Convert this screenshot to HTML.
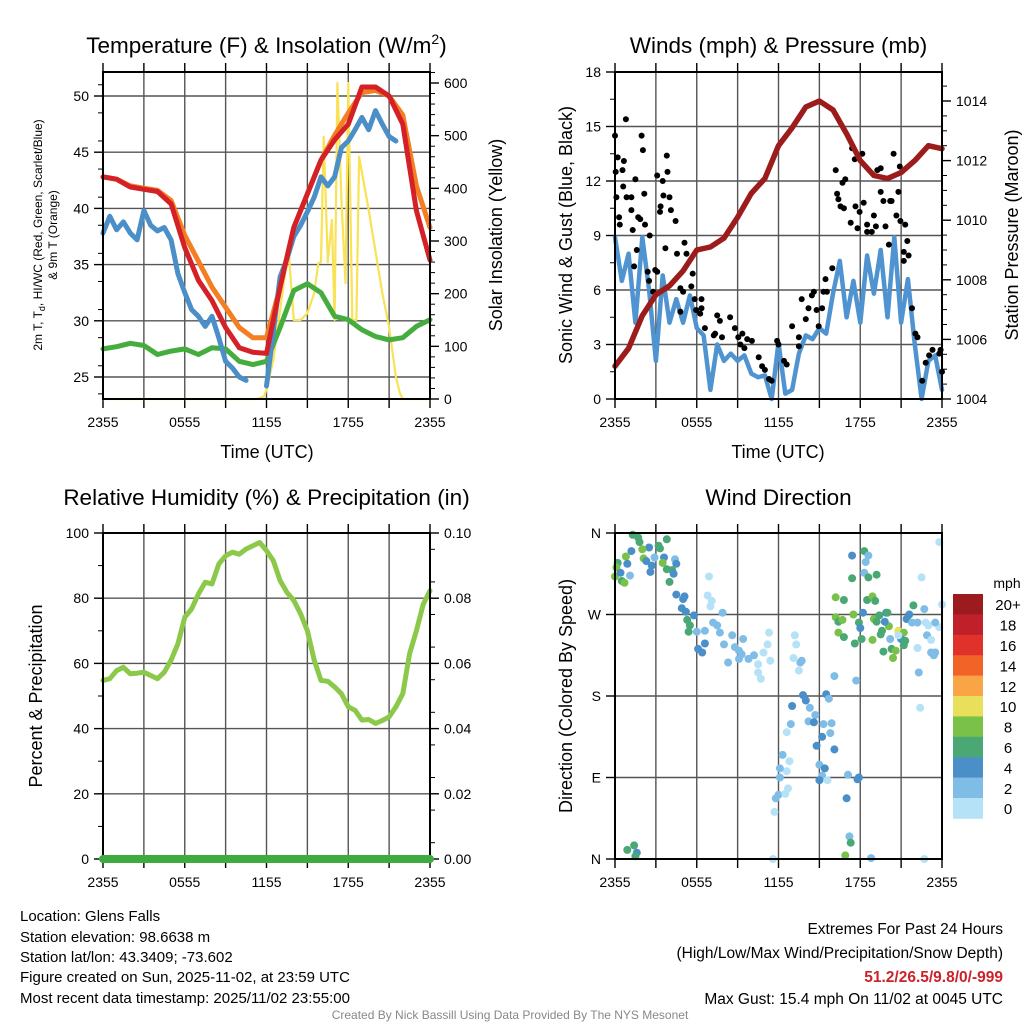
<!DOCTYPE html>
<html><head><meta charset="utf-8"><style>
html,body{margin:0;padding:0;background:#fff;}
svg{display:block;font-family:"Liberation Sans",Arial,sans-serif;}
</style></head><body>
<svg id="root" width="1024" height="1024" viewBox="0 0 1024 1024" xmlns="http://www.w3.org/2000/svg">
<rect x="0" y="0" width="1024" height="1024" fill="#fff"/>
<g id="g1"></g>
<g id="g2"></g>
<g id="g3"></g>
<g id="g4"></g>
<g font-size="15" fill="#000">
<text x="20" y="921">Location: Glens Falls</text>
<text x="20" y="942">Station elevation: 98.6638 m</text>
<text x="20" y="962">Station lat/lon: 43.3409; -73.602</text>
<text x="20" y="982">Figure created on Sun, 2025-11-02, at 23:59 UTC</text>
<text x="20" y="1003">Most recent data timestamp: 2025/11/02 23:55:00</text>
</g>
<g font-size="15.5" text-anchor="end">
<text x="1003" y="934">Extremes For Past 24 Hours</text>
<text x="1003" y="958">(High/Low/Max Wind/Precipitation/Snow Depth)</text>
<text x="1003" y="982" fill="#cc2229" font-weight="bold">51.2/26.5/9.8/0/-999</text>
<text x="1003" y="1004">Max Gust: 15.4 mph On 11/02 at 0045 UTC</text>
</g>
<text x="510" y="1019" font-size="12" fill="#888" text-anchor="middle">Created By Nick Bassill Using Data Provided By The NYS Mesonet</text>
</svg>
<script>
// ---- data ----
const xTickLabels = ["2355","0555","1155","1755","2355"];
const hours = [0,1,2,3,4,5,6,7,8,9,10,11,12,13,14,15,16,17,18,19,20,21,22,23,24];
const halfHours = [0,0.5,1,1.5,2,2.5,3,3.5,4,4.5,5,5.5,6,6.5,7,7.5,8,8.5,9,9.5,10,10.5,11,11.5,12,12.5,13,13.5,14,14.5,15,15.5,16,16.5,17,17.5,18,18.5,19,19.5,20,20.5,21,21.5,22,22.5,23,23.5,24];
const tempRed = [42.8,42.6,41.9,41.7,41.5,40.4,36.5,33.6,31.8,29.4,27.6,27.2,27.1,33,38.3,41.3,44.3,46.1,47.5,50.8,50.8,50,47.5,39.8,35.4];
const tempOrange = [42.8,42.6,42.0,41.8,41.6,40.7,37.6,35.3,33,31.2,29.4,28.5,28.5,33,38.3,41.3,44.3,46.5,48.5,50.3,50.5,50,48.3,42,38.3];
const tempGreen = [27.5,27.7,28,27.8,27,27.3,27.5,27,27.6,27.5,26.4,26.1,26.4,29.4,32.7,33.3,32.5,30.4,30.1,29.2,28.6,28.3,28.5,29.5,30.1];
const blueTimes = [0,0.5,1,1.5,2,2.5,3,3.5,4,4.5,5,5.5,6,6.5,7,7.5,8,8.5,9,9.5,10,10.5,11.5,12,12.5,13,13.5,14,14.5,15,15.5,16,16.5,17,17.5,18,18.5,19,19.5,20,20.5,21,21.5];
const tempBlue = [37.8,39.3,38.1,38.8,37.8,37.2,39.8,38.5,38,38.3,37.2,34.2,32.5,31,30.4,29.5,30.4,28.5,26.4,25.8,25,24.7,null,24.2,29,33.9,35.5,37.5,38.5,39.7,41,42.8,42,42.8,45.4,46,47,48.1,47,48.7,47.5,46.4,46];
const solarTimes = [0,11.3,11.8,12,12.5,13,13.5,13.6,14,14.5,15,15.5,15.8,16,16.2,16.5,16.8,17,17.2,17.5,17.8,18,18.3,18.6,18.8,19.5,20.5,21,21.5,21.8,22,24];
const solarVals = [0,0,5,17,74,169,264,290,150,150,163,201,258,260,498,260,340,150,600,380,220,600,150,150,460,359,201,137,42,10,0,0];
const windVals = [8.9,6.5,8,4.2,8.9,6,2.1,6.8,4.2,5.5,4.2,5.7,3.9,3.5,0.5,3,2.1,2.5,2.1,2.4,1.4,1.2,1.3,0,3.1,0.3,0.5,2.5,3.5,3.3,3.9,3.6,5.8,7.6,4.5,6.5,4.2,7.9,5.8,8.2,4.5,8.9,4.2,6.6,3,0,2.1,2.4,0.5];
const pressureVals = [1005.1,1005.7,1006.8,1007.5,1007.8,1008.3,1009,1009.1,1009.4,1010.1,1010.9,1011.4,1012.5,1013.1,1013.8,1014,1013.7,1012.9,1012,1011.5,1011.4,1011.6,1012,1012.5,1012.4];
const gustTimes = [0,0.8,0.2,0.05,0.55,0.65,0.6,0.1,0.3,0.35,1.2,0.85,1.2,1.5,1.7,1.85,1.3,2.2,1.95,2.05,2.15,1.6,1.4,2.55,2.4,2.5,2.95,3.1,3.5,3.8,3.85,3.55,4.0,3.35,3.3,4.1,4.45,2.8,3.1,3.7,4.55,5.1,5.25,5.7,4.8,5.0,5.6,5.85,5.95,4.8,6.35,6.35,6.25,6.6,7.5,7.7,7.35,7.25,7.85,8.45,8.8,9.05,9.35,9.7,9.2,9.5,10.05,10.55,10.8,11.0,11.3,11.5,11.9,12.0,12.4,12.6,13.0,13.5,13.5,13.7,14.0,14.2,14.45,14.6,14.8,14.95,15.2,15.3,15.45,15.55,15.95,16.2,16.3,16.4,16.55,16.8,16.7,16.9,17.3,17.4,17.6,17.65,17.8,17.95,18.15,18.25,18.5,18.5,18.85,19.0,19.15,19.25,19.5,19.5,19.7,19.85,20.1,20.2,20.3,20.45,20.65,20.8,20.9,20.95,21.2,21.3,21.45,21.55,21.2,21.8,22.05,22.2,22.55,22.8,23.05,23.3,23.8,23.9,24.0];
const gustVals = [14.5,15.4,13.3,12.5,12.6,13.1,11.7,11.1,10.0,9.6,11.1,11.1,10.4,12.1,10.0,9.9,9.3,9.6,14.5,13.7,11.3,8.2,7.3,9.0,7.0,6.5,7.1,12.3,12.0,13.4,12.5,11.2,11.1,10.6,10.3,10.4,9.8,5.9,7.0,8.3,8.0,8.6,8.0,6.9,6.1,5.9,6.2,5.5,4.9,4.8,5.5,5.0,4.7,3.9,4.6,4.3,3.6,3.5,3.4,4.5,3.9,3.4,3.6,3.3,3.0,2.8,3.2,2.3,1.8,1.6,1.1,1.0,3.2,3.0,2.1,1.9,4.0,3.4,2.9,5.5,4.4,5.0,5.7,5.9,4.9,4.0,5.0,5.9,6.6,5.9,7.2,12.6,11.3,11.0,10.6,10.5,11.9,12.1,9.7,13.8,13.2,10.6,9.4,10.3,13.5,10.8,9.6,9.2,9.2,10.1,9.5,12.6,12.7,11.4,10.9,9.5,8.5,10.9,10.9,13.5,10.1,11.4,12.8,9.8,8.1,9.6,8.7,7.9,7.6,5.0,3.6,3.4,1.0,2.0,2.4,2.7,2.5,2.7,1.5];
const rhVals = [54.8,55.3,57.8,58.8,56.8,57,57.3,56.3,55.3,57.3,61,66,74.2,76.7,81.3,84.9,84.4,90.5,93,94.1,93.5,95.1,96.1,97.1,94.6,91.5,85.4,81.8,79.3,75.2,70,61,54.8,54.5,52.8,50.7,46.7,45.6,42.6,42.8,41.6,42.5,43.6,46.7,50.7,63,70,78.1,82.3];
const precipVals = [0,0,0,0,0,0,0,0,0,0,0,0,0,0,0,0,0,0,0,0,0,0,0,0,0];
const dirTimes = [1.3,1.7,1.8,3.8,3.2,3.3,2.5,2.0,1.2,0.8,0.2,0.1,0.0,0.5,0.7,0.4,1.1,0.9,2.1,2.3,2.7,2.6,2.9,3.6,3.5,3.8,4.2,4.3,4.0,4.4,4.5,6.9,6.8,7.1,7.0,4.5,5.1,5.0,4.9,5.2,5.8,5.3,5.5,5.4,6.0,6.6,6.6,6.1,6.4,7.2,7.5,7.9,7.7,8.0,8.6,8.8,9.1,9.4,9.3,9.8,10.2,8.3,9.1,10.5,10.9,11.2,11.3,11.4,10.5,10.7,13.2,13.3,13.1,13.6,13.5,13.7,16.1,17.7,13.8,14.0,13.0,14.3,14.7,14.2,14.6,12.9,12.6,15.5,15.7,15.3,15.9,15.8,15.2,14.8,16.1,12.3,12.8,12.6,12.1,15.0,15.4,15.2,15.0,15.6,12.1,17.1,17.8,17.9,12.0,11.8,12.5,12.7,11.7,17.0,17.2,17.3,16.9,18.8,11.6,22.7,0.9,1.4,1.6,1.5,17.4,18.3,18.6,18.4,18.3,18.6,19.2,17.4,16.2,16.8,18.5,18.9,19.1,17.5,18.2,16.2,16.4,16.7,16.4,16.8,17.6,17.9,18.0,18.1,18.9,19.0,19.2,19.4,19.9,20.0,19.6,19.5,20.1,19.8,20.2,20.3,20.6,19.7,20.4,20.8,21.2,21.0,21.3,21.2,21.6,21.4,21.9,21.8,22.2,22.7,22.8,23.0,22.9,23.2,23.2,23.5,23.4,23.8,23.5,22.2,22.3,22.4,22.5,23.8,24.0,20.8];
const dirDegs = [358,355,350,353,346,343,344,342,340,334,327,322,312,307,305,316,313,326,332,329,324,317,333,333,327,320,319,315,306,331,326,312,291,285,279,292,290,287,277,273,269,264,258,251,251,252,238,232,228,261,258,272,250,237,247,234,230,243,226,221,225,217,221,215,228,237,250,219,206,199,247,237,222,217,208,219,202,197,181,175,169,167,159,152,151,149,140,182,177,149,150,139,135,125,121,115,108,97,100,104,100,92,87,87,90,93,88,90,71,67,72,78,52,67,25,18,4,1,0,0,10,15,7,3,335,340,335,328,316,311,314,310,289,286,286,290,285,270,272,267,262,264,250,245,238,261,255,243,242,265,262,269,272,272,252,248,257,262,243,232,230,229,222,252,250,243,241,236,270,265,280,261,261,276,261,258,247,242,228,228,225,256,261,233,206,167,311,350,281,247];
const dirSpeeds = [7,7,7,7,7,7,5,9,5,9,7,9,9,7,9,5,3,5,9,5,5,5,3,5,9,7,7,5,7,3,5,1,1,1,1,5,5,5,5,5,5,7,7,7,3,3,5,5,5,3,3,3,3,3,3,3,3,3,3,3,3,3,3,1,1,1,1,1,1,1,1,1,1,3,1,3,3,3,5,5,5,3,3,3,5,3,1,5,3,3,3,3,5,5,5,3,1,1,3,3,5,3,5,1,3,3,5,5,3,3,1,1,1,5,3,7,9,3,1,1,7,7,5,7,5,7,3,3,3,7,7,7,9,7,7,9,7,9,5,9,7,9,9,7,7,7,5,7,9,9,7,7,5,7,7,7,9,5,3,7,9,7,9,11,9,5,7,7,5,5,7,3,3,3,1,1,3,1,3,3,3,1,3,1,3,1,1,1,1,1,7];
const speedBins = ["0","2","4","6","8","10","12","14","16","18","20+"];
const speedColors = ["#b5e2f7","#80bde6","#4a8fc7","#4aa874","#7ac149","#e8e05a","#f9a545","#f26328","#e0322b","#c0202a","#9b1b1e"];

// ---- helpers ----
const NS="http://www.w3.org/2000/svg";
function mk(parent, tag, attrs){const e=document.createElementNS(NS,tag);for(const k in attrs)e.setAttribute(k,attrs[k]);parent.appendChild(e);return e;}
function txt(parent,x,y,s,size,anchor,extra){const e=mk(parent,'text',Object.assign({x:x,y:y,'font-size':size,'text-anchor':anchor||'middle'},extra||{}));e.textContent=s;return e;}
function scale(d0,d1,r0,r1){return v=>r0+(v-d0)/(d1-d0)*(r1-r0);}
function pathD(xs,ys,fx,fy){let d='',pen=false;for(let i=0;i<xs.length;i++){if(ys[i]===null){pen=false;continue;}d+=(pen?'L':'M')+fx(xs[i]).toFixed(1)+','+fy(ys[i]).toFixed(1);pen=true;}return d;}

function frame(g,L,R,T,B,title,titleOff){
  const fx=scale(0,24,L,R);
  for(let h=3;h<24;h+=3){const l=mk(g,'line',{x1:fx(h),x2:fx(h),y1:T,y2:B,stroke:'#555','stroke-width':1.4});
    
    }
  for(let h=0;h<=24;h+=3){const l=mk(g,'line',{x1:fx(h),x2:fx(h),y1:T-9,y2:T,stroke:'#000','stroke-width':1.4});
    
    
    const l2=mk(g,'line',{x1:fx(h),x2:fx(h),y1:B,y2:B+9,stroke:'#000','stroke-width':1.4});
    
    }
  xTickLabels.forEach((s,i)=>{const t=txt(g,fx(i*6),B+28,s,14);
    
    });
  const tt=txt(g,(L+R)/2,T-titleOff,'',22.5);tt.innerHTML=title;
  
  
}
function hgrid(g,L,R,y){const l=mk(g,'line',{x1:L,x2:R,y1:y,y2:y,stroke:'#555','stroke-width':1.4});
  
  }
function yTicks(g,side,x,ys,labels,minor){
  const dir=side==='left'?-1:1;
  ys.forEach((y,i)=>{const l=mk(g,'line',{x1:x,x2:x+dir*9,y1:y,y2:y,stroke:'#000','stroke-width':1.4});
    
    
    const t=txt(g,x+dir*14,y+5,labels[i],14,side==='left'?'end':'start');
    
    });
  (minor||[]).forEach(y=>{const l=mk(g,'line',{x1:x,x2:x+dir*5,y1:y,y2:y,stroke:'#000','stroke-width':1});
    
    });
}
function box(g,L,R,T,B){const r=mk(g,'rect',{x:L,y:T,width:R-L,height:B-T,fill:'none',stroke:'#000','stroke-width':2});
  
  }
function vlabel(g,x,y,s,size){const t=txt(g,0,0,s,size);t.setAttribute('transform','translate('+x+','+y+') rotate(-90)');return t;}
function line(g,d,color,w,name){const p=mk(g,'path',{d:d,fill:'none',stroke:color,'stroke-width':w,'stroke-linejoin':'round','stroke-linecap':'round'});
  
  return p;}

// ---- Panel 1 ----
(function(){
  const g=document.getElementById('g1');const L=103,R=430,T=72,B=399;
  const fx=scale(0,24,L,R), fy=scale(25,50,377,96), fs=scale(0,600,399,83);
  for(let v=25;v<=50;v+=5)hgrid(g,L,R,fy(v));
  frame(g,L,R,T,B,'Temperature (F) &amp; Insolation (W/m<tspan dy="-9" font-size="14">2</tspan><tspan dy="9">)</tspan>',19);
  const tv=[25,30,35,40,45,50];
  const minorL=[];for(let v=23.5;v<=52.5;v+=2.5){if(v%5!==0)minorL.push(fy(v));}
  yTicks(g,'left',L,tv.map(fy),tv.map(String),minorL);
  const sv=[0,100,200,300,400,500,600];const minorR=[];for(let v=0;v<=620;v+=20){if(v%100!==0)minorR.push(fs(v));}
  yTicks(g,'right',R,sv.map(fs),sv.map(String),minorR);
  line(g,pathD(solarTimes,solarVals,fx,fs),'#f9e255',2.2,'solar-insolation-line');
  line(g,pathD(hours,tempGreen,fx,fy),'#45ad3e',5,'dewpoint-line');
  line(g,pathD(hours,tempOrange,fx,fy),'#f47e22',5,'temp-9m-line');
  line(g,pathD(blueTimes,tempBlue,fx,fy),'#4a8fc8',5,'windchill-line');
  line(g,pathD(hours,tempRed,fx,fy),'#d42027',5,'temp-2m-line');
  box(g,L,R,T,B);
  const t1=vlabel(g,42,235,'',12);t1.innerHTML='2m T, T<tspan dy="3" font-size="9">d</tspan><tspan dy="-3">, HI/WC (Red, Green, Scarlet/Blue)</tspan>';
  
  
  const t2=vlabel(g,57,235,'& 9m T (Orange)',12);
  
  
  const t3=vlabel(g,502,235,'Solar Insolation (Yellow)',18);
  
  
  const t4=txt(g,267,458,'Time (UTC)',18);
  
  
})();

// ---- Panel 2 ----
(function(){
  const g=document.getElementById('g2');const L=615,R=942,T=72,B=399;
  const fx=scale(0,24,L,R), fy=scale(0,18,B,T), fp=scale(1004,1014,399,101);
  for(let v=3;v<18;v+=3)hgrid(g,L,R,fy(v));
  frame(g,L,R,T,B,'Winds (mph) &amp; Pressure (mb)',19);
  const wv=[0,3,6,9,12,15,18];const mn=[];for(let v=1.5;v<18;v+=3)mn.push(fy(v));
  yTicks(g,'left',L,wv.map(fy),wv.map(String),mn);
  const pv=[1004,1006,1008,1010,1012,1014];const mp=[];for(let v=1004.5;v<=1014.5;v+=0.5){if(v%2!==0)mp.push(fp(v));}
  yTicks(g,'right',R,pv.map(fp),pv.map(String),mp);
  line(g,pathD(halfHours,windVals,fx,fy),'#4f94d0',4.5,'sonic-wind-line');
  gustTimes.forEach((t,i)=>{const c=mk(g,'circle',{cx:fx(t).toFixed(1),cy:fy(gustVals[i]).toFixed(1),r:3,fill:'#000'});
    
    });
  line(g,pathD(hours,pressureVals,fx,fp),'#9c1c1c',5.5,'pressure-line');
  box(g,L,R,T,B);
  const a=vlabel(g,572,235,'Sonic Wind & Gust (Blue, Black)',18);
  
  
  const b=vlabel(g,1018,235,'Station Pressure (Maroon)',18);
  
  
  const c=txt(g,778,458,'Time (UTC)',18);
  
  
})();

// ---- Panel 3 ----
(function(){
  const g=document.getElementById('g3');const L=103,R=430,T=533,B=859;
  const fx=scale(0,24,L,R), fy=scale(0,100,B,T), fr=scale(0,0.1,B,T);
  for(let v=20;v<100;v+=20)hgrid(g,L,R,fy(v));
  frame(g,L,R,T,B,'Relative Humidity (%) &amp; Precipitation (in)',28);
  const lv=[0,20,40,60,80,100];const mn=[];for(let v=10;v<100;v+=20)mn.push(fy(v));
  yTicks(g,'left',L,lv.map(fy),lv.map(String),mn);
  const rv=[0,0.02,0.04,0.06,0.08,0.10];const mr=[];for(let v=0.005;v<0.1;v+=0.01)mr.push(fr(v));
  yTicks(g,'right',R,rv.map(fr),rv.map(v=>v.toFixed(2)),mr);
  line(g,pathD(halfHours,rhVals,fx,fy),'#8cc94b',5,'relative-humidity-line');
  box(g,L,R,T,B);
  line(g,pathD(hours,precipVals,fx,fr),'#3dab3f',8,'precipitation-line');
  const a=vlabel(g,42,696,'Percent & Precipitation',18);
  
  
})();

// ---- Panel 4 ----
(function(){
  const g=document.getElementById('g4');const L=615,R=942,T=533,B=859;
  const fx=scale(0,24,L,R), fy=scale(0,360,B,T);
  [90,180,270].forEach(v=>hgrid(g,L,R,fy(v)));
  frame(g,L,R,T,B,'Wind Direction',28);
  const dv=[0,90,180,270,360];
  yTicks(g,'left',L,dv.map(fy),['N','E','S','W','N']);
  dirTimes.forEach((t,i)=>{const bin=Math.min(10,Math.floor(dirSpeeds[i]/2));
    const c=mk(g,'circle',{cx:fx(t).toFixed(1),cy:fy(dirDegs[i]).toFixed(1),r:4,fill:speedColors[bin]});
    
    });
  box(g,L,R,T,B);
  const a=vlabel(g,572,696,'Direction (Colored By Speed)',18);
  
  
  const cb=mk(g,'g',{});
  
  
  const m=txt(cb,1007,588,'mph',14);
  
  
  const top=594,h=20.4;
  for(let i=0;i<speedBins.length;i++){const k=speedBins.length-1-i;const y=top+i*h;
    const r=mk(cb,'rect',{x:953,y:y.toFixed(1),width:30,height:(h+0.4).toFixed(1),fill:speedColors[k]});
    
    
    const t=txt(cb,1008,y+h/2+6,speedBins[k],15);
    
    }
})();
</script>
</body></html>
